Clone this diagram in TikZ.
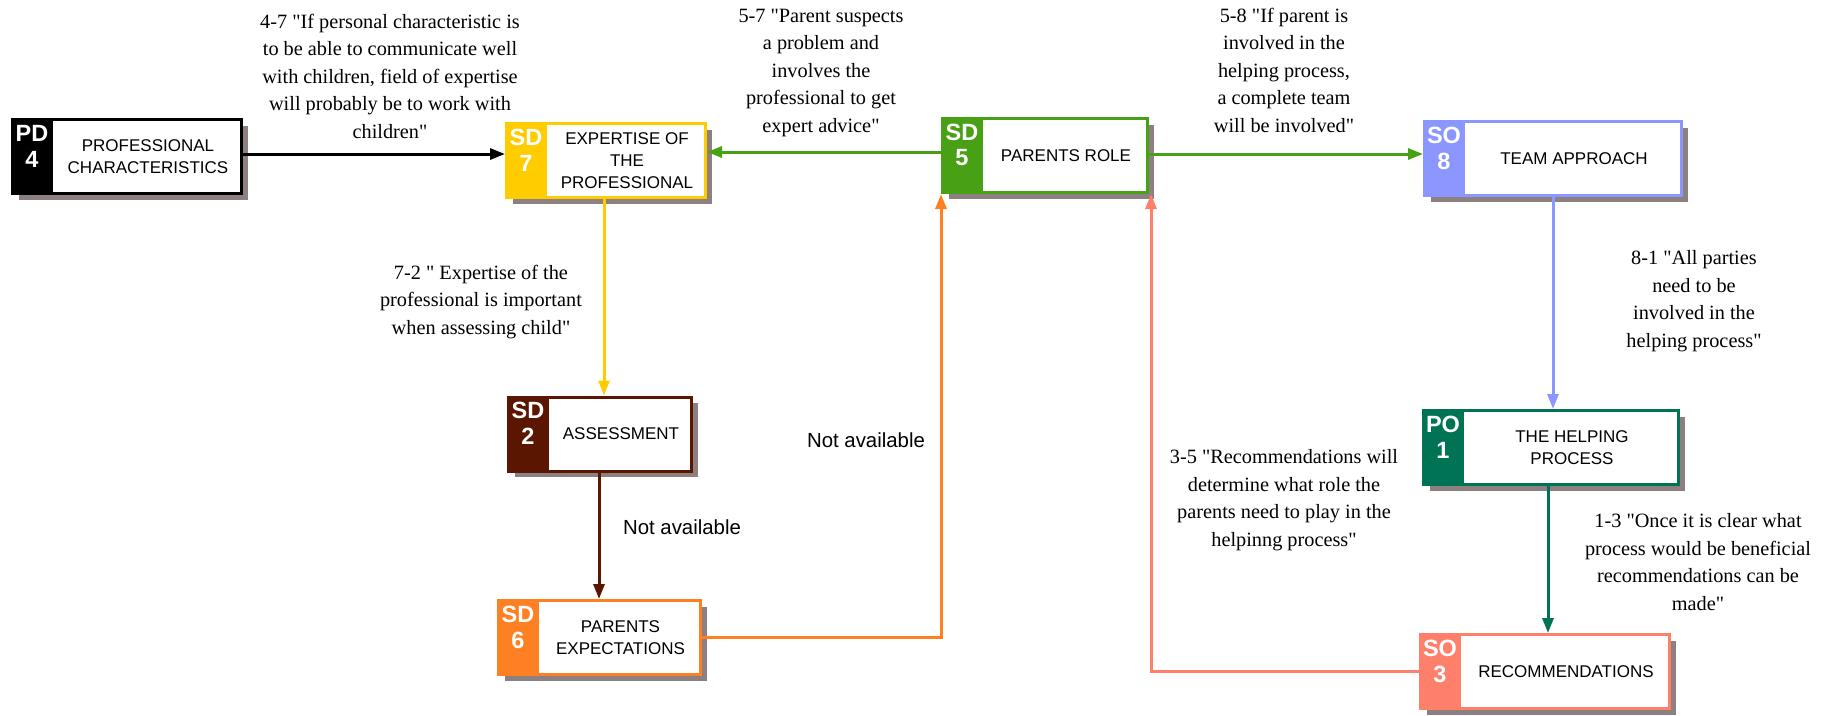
\documentclass[tikz,border=0pt]{standalone}
\usepackage{fontspec}
\setmainfont{Liberation Serif}[Ligatures=TeXOff]
\setsansfont{Liberation Sans}
\usetikzlibrary{arrows.meta,shadows,calc}
\definecolor{cPD}{RGB}{0,0,0}
\definecolor{cSDseven}{RGB}{255,204,0}
\definecolor{cSDfive}{RGB}{72,160,20}
\definecolor{cSOeight}{RGB}{140,150,255}
\definecolor{cSDtwo}{RGB}{90,22,0}
\definecolor{cSDsix}{RGB}{255,128,34}
\definecolor{cPOone}{RGB}{0,115,85}
\definecolor{cSOthree}{RGB}{255,128,106}
\definecolor{shadowc}{RGB}{140,128,128}
\tikzset{
  diagbox/.style={draw=#1, line width=3pt, fill=white, minimum height=74pt, inner sep=0pt,
    drop shadow={shadow xshift=6pt, shadow yshift=-6pt, fill=shadowc, opacity=1}},
  codetext/.style={text=white, font=\sffamily\bfseries\fontsize{23.5}{26}\selectfont, inner sep=0pt},
  boxtext/.style={font=\sffamily\fontsize{17}{22}\selectfont, align=center, inner sep=0pt},
  lbl/.style={font=\rmfamily\fontsize{20.3}{27.5}\selectfont, align=center, inner sep=0pt},
  nalbl/.style={font=\sffamily\fontsize{20.4}{24}\selectfont, inner sep=0pt},
  arr/.style={draw=#1, line width=3pt, -{Triangle[length=15pt,width=11pt]}},
}
\newcommand\cbox[8]{%
  \node[diagbox=#5, minimum width=#4pt-3pt] (#1) at (#2,#3) {};
  \fill[#5] (#1.north west) rectangle ($(#1.south west)+(42,0)$);
  \node[codetext] (#1c) at ($(#1.north west)+(21,15)$) {#6};
  \node[codetext] (#1n) at ($(#1.north west)+(21,41)$) {#7};
  \node[boxtext] (#1t) at ($(#1.center)+(21,0)$) {#8};
}
\begin{document}
\begin{tikzpicture}[x=1pt,y=-1pt]
\useasboundingbox (0,0) rectangle (1831,715);
\cbox{pd4}{127}{156.5}{232}{cPD}{PD}{4}{PROFESSIONAL\\CHARACTERISTICS}
\cbox{sd7}{606}{160.5}{202}{cSDseven}{SD}{7}{EXPERTISE OF\\THE\\PROFESSIONAL}
\cbox{sd5}{1045}{155.5}{208}{cSDfive}{SD}{5}{PARENTS ROLE}
\cbox{so8}{1553}{158.5}{260}{cSOeight}{SO}{8}{TEAM APPROACH}
\cbox{sd2}{600}{434}{186}{cSDtwo}{SD}{2}{ASSESSMENT}
\cbox{sd6}{599.5}{637.5}{205}{cSDsix}{SD}{6}{PARENTS\\EXPECTATIONS}
\cbox{po1}{1551}{447.5}{258}{cPOone}{PO}{1}{THE HELPING\\PROCESS}
\cbox{so3}{1545}{671.5}{252}{cSOthree}{SO}{3}{RECOMMENDATIONS}
\coordinate (h154) at (0,154);
\coordinate (h152) at (0,152);
\coordinate (v604) at (604,0);
\coordinate (v599) at (599,0);
\coordinate (v1548) at (1548,0);
\draw[arr=black] (pd4.east|-h154) -- (sd7.west|-h154);
\draw[arr=cSDfive] (sd5.west|-h152) -- (sd7.east|-h152);
\draw[arr=cSDfive] (sd5.east|-h154) -- (so8.west|-h154);
\draw[arr=cSDseven] (sd7.south-|v604) -- (sd2.north-|v604);
\draw[arr=cSDtwo] (sd2.south-|v599) -- (sd6.north-|v599);
\draw[arr=cSDsix] (sd6.east) -| (sd5.south west);
\draw[arr=cSOthree] (so3.west) -| ($(sd5.south east)+(2,0)$);
\draw[arr=cSOeight] (so8.south) -- (po1.north-|so8.south);
\draw[arr=cPOone] (po1.south-|v1548) -- (so3.north-|v1548);
\node[lbl] (l47) at (390,76) {4-7 "If personal characteristic is\\to be able to communicate well\\with children, field of expertise\\will probably be to work with\\children"};
\node[lbl] (l57) at (821,73) {5-7 "Parent suspects\\a problem and\\involves the\\professional to get\\expert advice"};
\node[lbl] (l58) at (1284,70) {5-8 "If parent is\\involved in the\\helping process,\\a complete team\\will be involved"};
\node[lbl] (l72) at (481,302) {7-2 " Expertise of the\\professional is important\\when assessing child"};
\node[lbl] (l81) at (1694,301) {8-1 "All parties\\need to be\\involved in the\\helping process"};
\node[lbl] (l35) at (1284,500) {3-5 "Recommendations will\\determine what role the\\parents need to play in the\\helpinng process"};
\node[lbl] (l13) at (1698,562) {1-3 "Once it is clear what\\process would be beneficial\\recommendations can be\\made"};
\node[nalbl] (na1) at (682,527) {Not available};
\node[nalbl] (na2) at (866,440) {Not available};
\end{tikzpicture}
\end{document}
